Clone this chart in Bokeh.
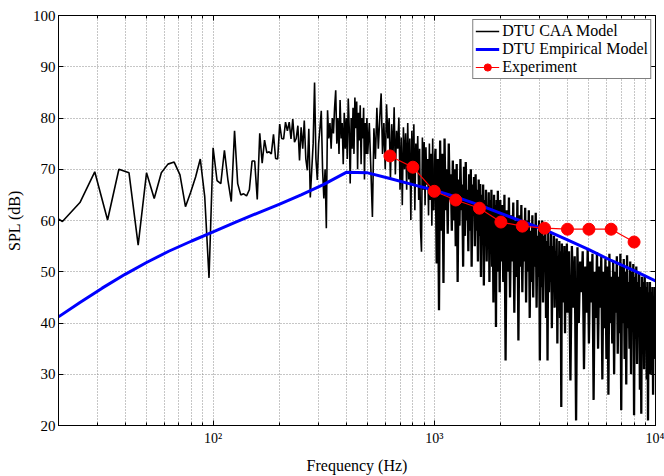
import numpy as np
from bokeh.plotting import figure
from bokeh.models import FixedTicker, LogAxis, LinearAxis, Legend, LegendItem, Range1d
from bokeh.embed import file_html
from bokeh.resources import INLINE

# ---------------- data ----------------
# DTU CAA model: narrow-band spectrum on FFT bins f = k * caa_df
caa_df = 25.0 / 6.0
# bins 4..120 (every bin)
caa_spl_bins_4_120 = [
    62.5, 59.8, 63.5, 69.5, 60.1, 70.0, 69.3, 55.2, 69.3, 64.3,
    69.3, 71.0, 71.4, 68.9, 62.7, 65.5, 68.5, 72.0, 64.6, 48.8,
    74.2, 67.8, 67.2, 73.7, 67.9, 63.7, 77.5, 67.2, 65.0, 65.2,
    64.8, 66.0, 71.6, 71.6, 64.1, 77.0, 71.2, 75.7, 73.2, 73.4,
    73.0, 76.8, 72.1, 72.0, 78.8, 76.0, 75.9, 79.2, 77.5, 79.2,
    75.9, 79.8, 75.3, 76.0, 78.5, 71.7, 78.2, 74.0, 79.5, 72.0,
    69.8, 77.9, 64.5, 69.8, 75.0, 86.9, 72.0, 67.9, 75.0, 78.0,
    81.4, 70.0, 64.3, 70.0, 58.5,
    81.5, 76, 79, 74, 80, 77, 82, 85.4, 75, 80,
    73, 83.5, 76, 79, 71, 81, 74, 80, 72, 83.8,
    78, 67.2, 80, 74, 82, 73, 84, 78, 83.2, 70,
    81, 75.6, 82.5, 71, 80, 76, 82, 68, 79, 73,
    80, 73,
]
# bins 122..240, every 2nd bin (500 - 1000 Hz)
caa_spl_500_1000 = [
    79, 70, 60.7, 78, 72, 82, 74, 80, 84.8, 73,
    79, 70, 82.7, 76, 80, 68, 78.8, 72, 82.1, 69,
    77.5, 74, 80.1, 66, 76.2, 63, 78.2, 70, 77, 66,
    79, 68, 76, 60.1, 77.5, 67, 78.8, 62, 75, 70,
    76.5, 64, 74, 58, 53.9, 76.2, 66, 75.3, 63, 74.3,
    67, 72, 61, 75, 64, 73, 59, 76, 62, 70,
]
# bins 243..480, every 3rd bin (1 - 2 kHz)
caa_spl_1000_2000 = [
    74, 51.6, 72, 42.5, 75.6, 58, 73, 47.8, 76, 62,
    70, 57.4, 75, 64, 69, 58, 71.7, 60, 70, 55,
    71, 48, 68, 59, 72, 62, 67, 51, 70.5, 57,
    71.4, 60, 66, 54, 69, 58, 70, 51, 67, 61,
    68.5, 55, 69, 58, 66, 52, 68, 57, 67.1, 49,
    65, 56, 67, 47.3, 64, 55, 66, 52, 63, 57,
    65.5, 48, 64, 54, 66, 51, 62, 44, 65, 53,
    63, 39.2, 64, 50, 65.8, 54, 61, 46, 64, 52,
]
# bins 486..960, every 6th bin (2 - 4 kHz)
caa_spl_2000_4000 = [
    63, 48, 65, 32.7, 62, 50, 64.5, 45, 61, 52,
    63.5, 42, 60, 49, 64, 36.6, 61, 51, 63, 46,
    59, 52, 62.5, 44, 60, 50, 62, 41, 58, 48,
    61, 45, 59, 51, 61.5, 43, 57, 49, 60, 32.7,
    58, 47, 60, 44, 57, 50, 59.4, 41, 56, 32.7,
    58, 46, 55, 48, 57.5, 39, 55, 47, 57, 43,
    54, 49, 56.5, 36, 53, 45, 56, 41, 54, 23.6,
    55.5, 44, 52, 47, 55, 38, 53, 46, 55.5, 42,
]
# bins 975..2400, every 15th bin (4 - 10 kHz)
caa_spl_4000_10000 = [
    54, 28.8, 55, 43, 53, 21, 54.8, 40, 52, 46,
    54, 31, 51, 42, 54.5, 36, 52, 44, 53.5, 25,
    50, 41, 53.8, 35, 51, 43, 53, 29, 50, 39,
    52.5, 33, 51, 26, 53.5, 40, 49, 36, 52, 30,
    50, 42, 53, 34, 49, 38, 53.5, 23, 51, 40,
    52.5, 33, 50, 28, 53.2, 39, 48, 35, 52, 30,
    50, 41, 51.5, 22, 49, 37, 51, 32, 48, 40,
    50, 27, 47, 22.3, 49, 36, 48, 31, 49, 39,
    47, 29, 48, 21, 46, 35, 48, 30, 46, 38,
    47, 26, 45, 33, 47, 36,
]
caa_segments = [  # (first bin, bin step, values)
    (4, 1, caa_spl_bins_4_120),
    (122, 2, caa_spl_500_1000),
    (243, 3, caa_spl_1000_2000),
    (486, 6, caa_spl_2000_4000),
    (975, 15, caa_spl_4000_10000),
]

# DTU empirical model (1/3-octave)
emp_freq = [20, 25, 31.5, 40, 50, 63, 80, 100, 125, 160, 200, 250, 315, 400,
            500, 630, 800, 1000, 1250, 1600, 2000, 2500, 3150, 4000, 5000,
            6300, 8000, 10000]
emp_spl = [41.2, 44.0, 46.8, 49.5, 51.8, 54.0, 56.0, 57.8, 59.6, 61.5, 63.2,
           65.0, 67.0, 69.4, 69.3, 68.2, 67.0, 65.9, 64.6, 63.0, 61.4, 59.8,
           58.2, 56.2, 54.3, 52.2, 50.2, 48.2]

# Experiment (1/3-octave)
exp_freq = [630, 800, 1000, 1250, 1600, 2000, 2500, 3150, 4000, 5000, 6300, 8000]
exp_spl = [72.6, 70.4, 65.7, 64.0, 62.4, 59.7, 58.9, 58.5, 58.3, 58.3, 58.3, 55.8]

x_major = [100, 1000, 10000]
x_minor = [20, 30, 40, 50, 60, 70, 80, 90, 200, 300, 400, 500, 600, 700, 800,
           900, 2000, 3000, 4000, 5000, 6000, 7000, 8000, 9000]
y_ticks = [20, 30, 40, 50, 60, 70, 80, 90, 100]
x_labels = {100: "10²", 1000: "10³", 10000: "10⁴"}

# ---------------- build ----------------
caa_f, caa_s = [], []
for k0, step, vals in caa_segments:
    for i, v in enumerate(vals):
        caa_f.append((k0 + step * i) * caa_df)
        caa_s.append(v)
# split where the spectrum becomes a dense band (above 1 kHz)
n_lo = sum(1 for f in caa_f if f <= 1000.0)

FONT = "Liberation Serif"

p = figure(width=664, height=476, x_axis_type="log",
           x_range=Range1d(20, 10000), y_range=Range1d(20, 100),
           output_backend="svg", toolbar_location=None,
           min_border_left=58, min_border_right=9, min_border_top=15,
           min_border_bottom=50)
p.background_fill_color = "white"
p.border_fill_color = "white"
p.outline_line_color = "black"
p.outline_line_width = 1

r_caa = p.line(caa_f[:n_lo], caa_s[:n_lo], line_color="black", line_width=1.6)
r_caa2 = p.line(caa_f[n_lo - 1:], caa_s[n_lo - 1:], line_color="black",
                line_width=2.3)
r_emp = p.line(emp_freq, emp_spl, line_color="#0000FF", line_width=3)
r_exl = p.line(exp_freq, exp_spl, line_color="#FF0000", line_width=1.2)
r_exs = p.scatter(exp_freq, exp_spl, size=12, marker="circle",
                  fill_color="#FF0000", line_color="#FF0000")

xt = FixedTicker(ticks=x_major, minor_ticks=x_minor)
yt = FixedTicker(ticks=y_ticks)

xa = p.xaxis[0]
xa.ticker = xt
xa.major_label_overrides = x_labels
ya = p.yaxis[0]
ya.ticker = yt

for ax in (xa, ya):
    ax.axis_line_color = "black"
    ax.major_tick_in = 5
    ax.major_tick_out = 0
    ax.minor_tick_in = 3
    ax.minor_tick_out = 0
    ax.major_tick_line_color = "black"
    ax.minor_tick_line_color = "black"
    ax.major_label_text_font = FONT
    ax.major_label_text_color = "black"
    ax.axis_label_text_font = FONT
    ax.axis_label_text_font_size = "16px"
    ax.axis_label_text_font_style = "normal"
    ax.axis_label_text_color = "black"
ya.major_label_text_font_size = "15px"
xa.major_label_text_font_size = "14px"
ya.minor_tick_line_color = None
xa.axis_label = "Frequency (Hz)"
ya.axis_label = "SPL (dB)"
xa.major_label_standoff = 5
xa.axis_label_standoff = 8
ya.major_label_standoff = 3
ya.axis_label_standoff = 7

# mirrored ticks on top and right (box style)
top = LogAxis(ticker=FixedTicker(ticks=x_major, minor_ticks=x_minor),
              major_label_text_font_size="1px", major_label_text_alpha=0,
              major_tick_in=5, major_tick_out=0, minor_tick_in=3,
              minor_tick_out=0, major_label_standoff=0,
              axis_line_color="black")
right = LinearAxis(ticker=FixedTicker(ticks=y_ticks),
                   major_label_text_font_size="1px", major_label_text_alpha=0,
                   major_tick_in=5, major_tick_out=0, minor_tick_in=0,
                   minor_tick_out=0, major_label_standoff=0,
                   axis_line_color="black")
p.add_layout(top, "above")
p.add_layout(right, "right")

for g, t in ((p.xgrid[0], xt), (p.ygrid[0], yt)):
    g.ticker = t
    g.grid_line_color = "#8c8c8c"
    g.grid_line_dash = "1 2"
    g.grid_line_width = 1
p.xgrid[0].minor_grid_line_color = "#8c8c8c"
p.xgrid[0].minor_grid_line_dash = "1 2"

legend = Legend(items=[
    LegendItem(label="DTU CAA Model", renderers=[r_caa]),
    LegendItem(label="DTU Empirical Model", renderers=[r_emp]),
    LegendItem(label="Experiment", renderers=[r_exl, r_exs]),
], location="top_right")
legend.label_text_font = FONT
legend.label_text_font_size = "16px"
legend.label_text_color = "black"
legend.border_line_color = "black"
legend.border_line_width = 1
legend.background_fill_alpha = 1
legend.glyph_width = 24
legend.glyph_height = 18
legend.label_height = 18
legend.spacing = 0
legend.padding = 2
legend.margin = 4
legend.label_standoff = 3
p.add_layout(legend)

open("out.html", "w").write(file_html(p, INLINE))
